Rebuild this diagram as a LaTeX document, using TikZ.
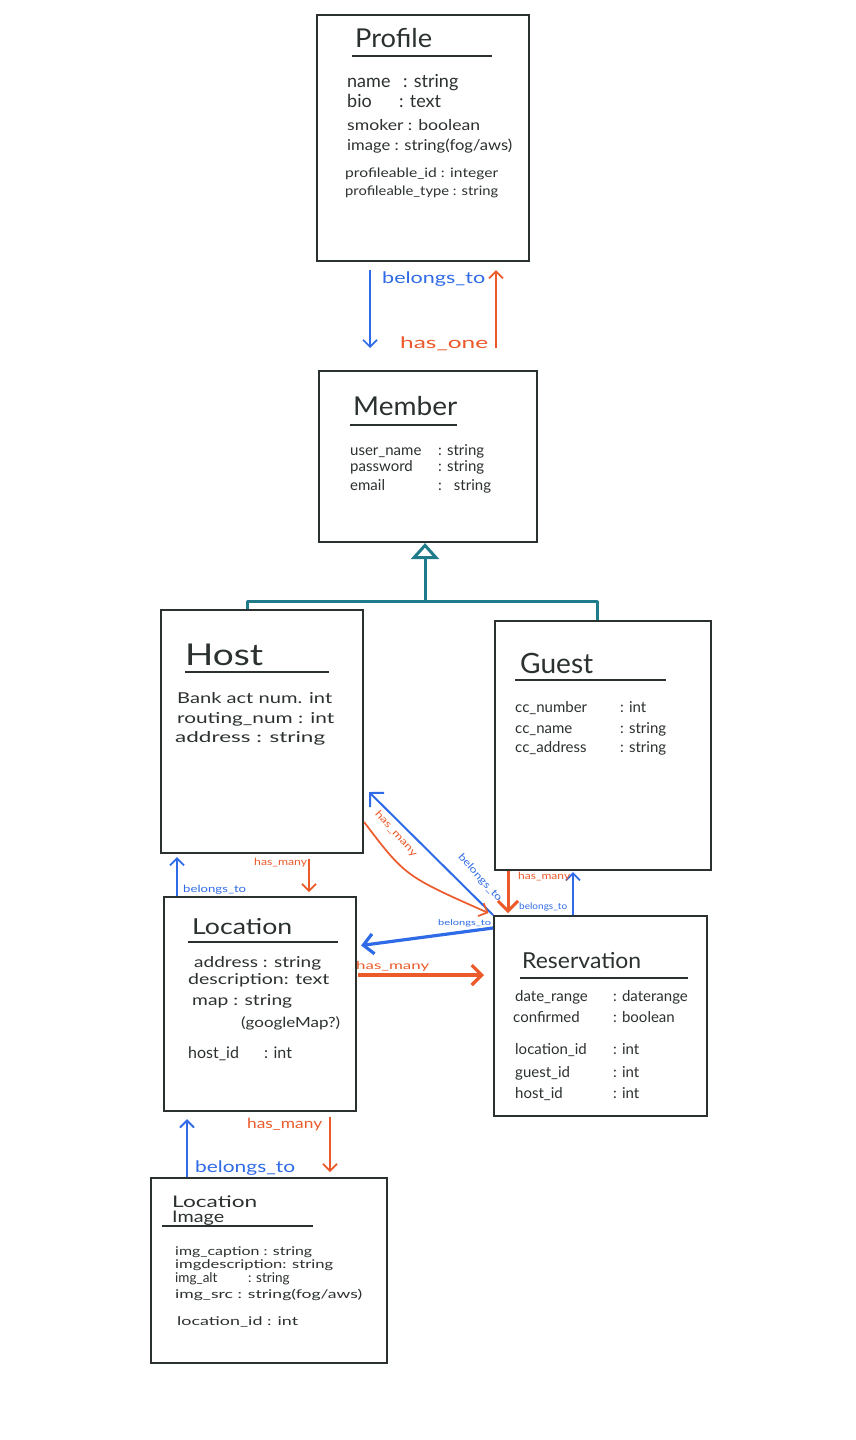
\documentclass[tikz,border=0pt]{standalone}
\usepackage{fontspec}
\setmainfont{Lato}
\usepackage{graphicx}
\usetikzlibrary{arrows.meta,calc}
\definecolor{ink}{HTML}{2B312E}
\definecolor{relblue}{HTML}{2F6BE6}
\definecolor{relorange}{HTML}{EC5A2B}
\definecolor{inhteal}{HTML}{1F7A8A}
% stretch a piece of text horizontally to a given width (pt)
\newcommand{\spanto}[2]{\resizebox{#1pt}{\height}{#2}}
\newcommand{\sz}[1]{\fontsize{#1}{#1}\selectfont}

\begin{document}
\begin{tikzpicture}[x=1pt,y=-1pt,
  entity/.style={draw=ink, line width=2.1pt, rectangle, inner sep=0pt, anchor=north west},
  title/.style={anchor=base west, text=ink, inner sep=0pt},
  attr/.style={anchor=base west, text=ink, inner sep=0pt},
  rule/.style={draw=ink, line width=1.8pt},
  barb/.style={-{Straight Barb[length=7pt,width=14pt]}},
  bigbarb/.style={-{Straight Barb[length=10pt,width=20pt]}},
  belongs/.style={draw=relblue, line width=1.7pt, barb},
  hasrel/.style={draw=relorange, line width=1.7pt, barb},
  bluelbl/.style={text=relblue, inner sep=0pt, anchor=base west},
  orangelbl/.style={text=relorange, inner sep=0pt, anchor=base west},
  inh/.style={draw=inhteal, line width=3pt, line join=round},
]
\fill[white] (0,0) rectangle (855,1440);
\useasboundingbox (0,0) rectangle (855,1440);

% ---------- entities ----------
\node[entity, minimum width=212pt, minimum height=246pt] (profile) at (316,14) {};
\node[entity, minimum width=218pt, minimum height=171pt] (member) at (318,370) {};
\node[entity, minimum width=202pt, minimum height=243pt] (host) at (160,609) {};
\node[entity, minimum width=216pt, minimum height=249pt] (guest) at (494,620) {};
\node[entity, minimum width=192pt, minimum height=214pt] (location) at (163,896) {};
\node[entity, minimum width=213pt, minimum height=200pt] (reservation) at (493,915) {};
\node[entity, minimum width=236pt, minimum height=185pt] (locimage) at (150,1177) {};

% ---------- Profile ----------
\node[title, font=\sz{26}] (profileT) at (355,47) {\spanto{77}{Profile}};
\draw[rule] (352,56) -- (492,56);
\node[attr, font=\sz{18}] (pf1) at (347,87) {\makebox[56pt][l]{name}: string};
\node[attr, font=\sz{18}] (pf2) at (347,107) {\makebox[52pt][l]{bio}: text};
\node[attr, font=\sz{15}] (pf3) at (347,130) {\spanto{133}{smoker : boolean}};
\node[attr, font=\sz{15}] (pf4) at (347,150) {\spanto{165}{image : string(fog/aws)}};
\node[attr, font=\sz{13}] (pf5) at (345,177) {\spanto{153}{profileable\_id : integer}};
\node[attr, font=\sz{13}] (pf6) at (345,195) {\spanto{153}{profileable\_type : string}};

% ---------- Member ----------
\node[title, font=\sz{26}] (memberT) at (353,415) {\spanto{104}{Member}};
\draw[rule] (350,425) -- (457,425);
\node[attr, font=\sz{15}] (mb1) at (350,455) {\makebox[88pt][l]{user\_name}: string};
\node[attr, font=\sz{15}] (mb2) at (350,471) {\makebox[88pt][l]{password}: string};
\node[attr, font=\sz{15}] (mb3) at (350,490) {\makebox[88pt][l]{email}:\hspace{12pt}string};

% ---------- Host ----------
\node[title, font=\sz{30}] (hostT) at (185,665) {\spanto{78}{Host}};
\draw[rule] (185,672) -- (329,672);
\node[attr, font=\sz{15}] (hs1) at (177,703) {\spanto{155}{Bank act num. int}};
\node[attr, font=\sz{15}] (hs2) at (177,723) {\spanto{157}{routing\_num : int}};
\node[attr, font=\sz{15}] (hs3) at (175,742) {\spanto{150}{address : string}};

% ---------- Guest ----------
\node[title, font=\sz{28}] (guestT) at (520,673) {\spanto{73}{Guest}};
\draw[rule] (515,680) -- (666,680);
\node[attr, font=\sz{15}] (gs1) at (515,712) {\makebox[105pt][l]{cc\_number}: int};
\node[attr, font=\sz{15}] (gs2) at (515,733) {\makebox[105pt][l]{cc\_name}: string};
\node[attr, font=\sz{15}] (gs3) at (515,752) {\makebox[105pt][l]{cc\_address}: string};

% ---------- Location ----------
\node[title, font=\sz{22}] (locationT) at (192,934) {\spanto{100}{Location}};
\draw[rule] (188,942) -- (338,942);
\node[attr, font=\sz{15}] (lc1) at (194,967) {\spanto{127}{address : string}};
\node[attr, font=\sz{15}] (lc2) at (188,984) {\spanto{141}{description: text}};
\node[attr, font=\sz{15}] (lc3) at (192,1005) {\spanto{100}{map : string}};
\node[attr, font=\sz{14}] (lc4) at (241,1027) {\spanto{99}{(googleMap?)}};
\node[attr, font=\sz{16}] (lc5) at (188,1058) {\makebox[76pt][l]{host\_id}: int};

% ---------- Reservation ----------
\node[title, font=\sz{22}] (reservationT) at (522,968) {\spanto{119}{Reservation}};
\draw[rule] (520,978) -- (688,978);
\node[attr, font=\sz{15}] (rs1) at (515,1001) {\makebox[98pt][l]{date\_range}: daterange};
\node[attr, font=\sz{15}] (rs2) at (513,1022) {\makebox[100pt][l]{confirmed}: boolean};
\node[attr, font=\sz{15}] (rs3) at (515,1054) {\makebox[98pt][l]{location\_id}: int};
\node[attr, font=\sz{15}] (rs4) at (515,1077) {\makebox[98pt][l]{guest\_id}: int};
\node[attr, font=\sz{15}] (rs5) at (515,1098) {\makebox[98pt][l]{host\_id}: int};

% ---------- Location Image ----------
\node[title, font=\sz{16}] (locimageT1) at (172,1207) {\spanto{85}{Location}};
\node[title, font=\sz{16}] (locimageT2) at (172,1222) {\spanto{52}{Image}};
\draw[rule] (162,1226) -- (313,1226);
\node[attr, font=\sz{12}] (li1) at (175,1255) {\spanto{137}{img\_caption : string}};
\node[attr, font=\sz{12}] (li2) at (175,1268) {\spanto{158}{imgdescription: string}};
\node[attr, font=\sz{13.5}] (li3) at (175,1282) {\makebox[73pt][l]{img\_alt}: string};
\node[attr, font=\sz{12}] (li4) at (175,1298) {\spanto{187}{img\_src : string(fog/aws)}};
\node[attr, font=\sz{12}] (li5) at (177,1325) {\spanto{121}{location\_id : int}};

% ---------- inheritance: Host, Guest -> Member ----------
\coordinate (inhJoint) at (425,601);
\draw[inh] (host.north -| 247,0) -- (247,601) -- (597,601) -- (guest.north -| 597,0);
\draw[inh, -{Triangle[open,length=16pt,width=28pt,line width=3pt]}] (inhJoint) -- (member.south -| 425,0);

% ---------- Profile <-> Member ----------
\draw[belongs, shorten <=8pt, shorten >=22pt] (profile.south -| 370,0) -- (member.north -| 370,0);
\draw[hasrel, shorten <=22pt, shorten >=8pt] (member.north -| 496,0) -- (profile.south -| 496,0);
\node[bluelbl, font=\sz{16}] (lblPM1) at (382,283) {\spanto{103}{belongs\_to}};
\node[orangelbl, font=\sz{16}] (lblPM2) at (400,348) {\spanto{88}{has\_one}};

% ---------- Host <-> Location ----------
\draw[hasrel, shorten <=5pt, shorten >=4pt] (host.south -| 309,0) -- (location.north -| 309,0);
\draw[belongs, shorten >=3pt] (location.north -| 177,0) -- (host.south -| 177,0);
\node[orangelbl, font=\sz{10}] (lblHL1) at (254,865) {\spanto{53}{has\_many}};
\node[bluelbl, font=\sz{10}] (lblHL2) at (183,892) {\spanto{63}{belongs\_to}};

% ---------- Location <-> Location Image ----------
\draw[hasrel, shorten <=5pt, shorten >=5pt] (location.south -| 330,0) -- (locimage.north -| 330,0);
\draw[belongs, line width=2pt, shorten >=7pt] (locimage.north -| 187,0) -- (location.south -| 187,0);
\node[orangelbl, font=\sz{14}] (lblLI1) at (247,1128) {\spanto{75}{has\_many}};
\node[bluelbl, font=\sz{16}] (lblLI2) at (195,1172) {\spanto{100}{belongs\_to}};

% ---------- Guest <-> Reservation ----------
\draw[hasrel, line width=3pt, bigbarb, shorten >=2pt] (guest.south -| 508,0) -- (reservation.north -| 508,0);
\draw[belongs, shorten >=1pt] (reservation.north -| 573,0) -- (guest.south -| 573,0);
\node[orangelbl, font=\sz{10}] (lblGR1) at (518,879) {\spanto{52}{has\_many}};
\node[bluelbl, font=\sz{9}] (lblGR2) at (519,909) {\spanto{48}{belongs\_to}};

% ---------- Host <-> Reservation ----------
\coordinate (hostPort) at (369,792);
\draw[belongs, line width=2pt, bigbarb] (reservation.north west) -- (hostPort);
\draw[hasrel, shorten >=5pt] (host.east |- 0,822) .. controls (405,876) .. (reservation.north west);
\node[text=relorange, font=\sz{10}, rotate=-48, inner sep=0pt] (lblHR1) at (396,834) {\spanto{58}{has\_many}};
\node[text=relblue, font=\sz{10}, rotate=-48, inner sep=0pt] (lblHR2) at (480,878) {\spanto{60}{belongs\_to}};

% ---------- Location <-> Reservation ----------
\draw[belongs, line width=3.2pt, bigbarb, shorten >=4pt] (reservation.west |- 0,928) -- (location.east |- 0,946);
\draw[hasrel, line width=3.2pt, bigbarb, shorten <=1pt, shorten >=9pt] (location.east |- 0,975) -- (reservation.west |- 0,975);
\node[bluelbl, font=\sz{8}] (lblLR1) at (438,925) {\spanto{53}{belongs\_to}};
\node[orangelbl, font=\sz{11}] (lblLR2) at (356,969) {\spanto{73}{has\_many}};

\end{tikzpicture}
\end{document}
